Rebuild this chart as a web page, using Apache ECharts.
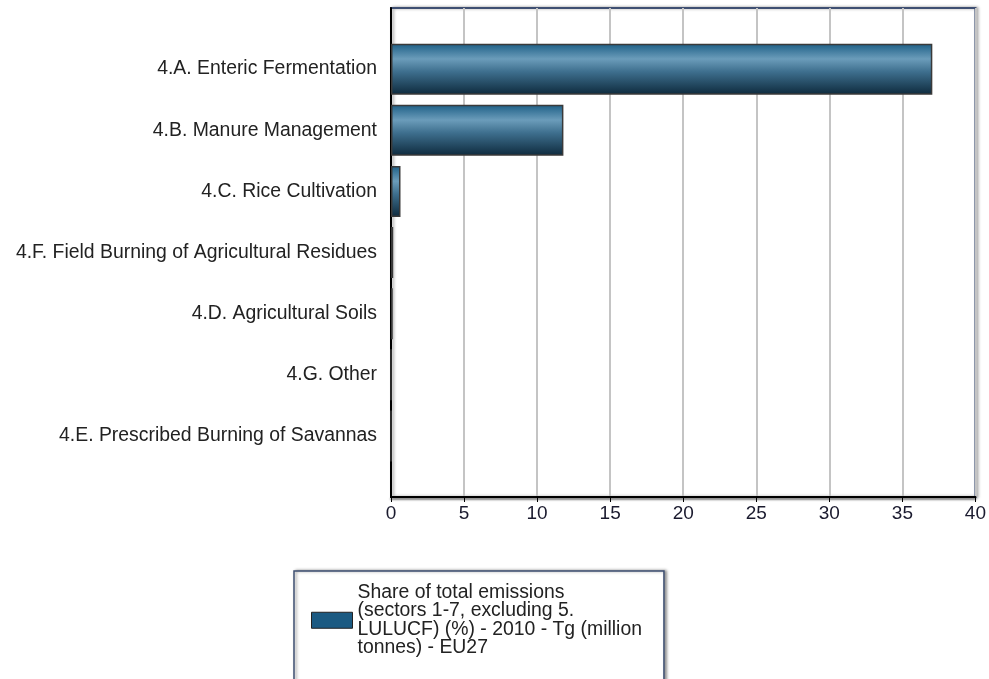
<!DOCTYPE html>
<html>
<head>
<meta charset="utf-8">
<script src="https://cdn.jsdelivr.net/npm/echarts@6/dist/echarts.min.js"></script>
<style>
html,body{margin:0;padding:0;background:#fff;}
#c{width:989px;height:679px;}
</style>
</head>
<body>
<div id="c"></div>
<script>
var categories = [
  '4.A. Enteric Fermentation',
  '4.B. Manure Management',
  '4.C. Rice Cultivation',
  '4.F. Field Burning of Agricultural Residues',
  '4.D. Agricultural Soils',
  '4.G. Other',
  '4.E. Prescribed Burning of Savannas'
];
var values = [37.05, 11.8, 0.65, 0.15, 0.12, 0, 0];
var seriesName = 'Share of total emissions\n(sectors 1-7, excluding 5.\nLULUCF) (%) - 2010 - Tg (million\ntonnes) - EU27';
var xTicks = [0, 5, 10, 15, 20, 25, 30, 35, 40];

var axisCats = [''].concat(categories).concat(['']);
var axisVals = [null].concat(values).concat([null]);

var chart = echarts.init(document.getElementById('c'), null, {renderer: 'canvas'});
var font = 'Liberation Sans, Arial, sans-serif';
chart.setOption({
  animation: false,
  backgroundColor: '#fff',
  grid: {
    left: 391, right: 13, top: 8, bottom: 182,
    show: true, borderColor: '#3e4f72', borderWidth: 2,
    shadowColor: 'rgba(0,0,0,0.35)', shadowBlur: 3, shadowOffsetX: 2, shadowOffsetY: 0,
    backgroundColor: '#fff'
  },
  xAxis: {
    type: 'value', min: xTicks[0], max: xTicks[xTicks.length - 1], interval: 5,
    axisLine: {show: true, lineStyle: {color: '#000', width: 2, shadowColor: 'rgba(0,0,0,0.45)', shadowBlur: 2, shadowOffsetY: 2}},
    axisTick: {show: true, length: 5, lineStyle: {color: '#000'}},
    axisLabel: {color: '#1a1a2e', fontSize: 19, fontFamily: font, margin: 7},
    splitLine: {show: true, lineStyle: {color: '#c4c4c4', width: 2}}
  },
  yAxis: {
    type: 'category', data: axisCats, inverse: true, boundaryGap: false,
    axisLine: {show: true, lineStyle: {color: '#000', width: 2}},
    axisTick: {show: false},
    axisLabel: {color: '#222', fontSize: 19.4, fontFamily: font, margin: 14, interval: 0},
    splitLine: {show: false}
  },
  legend: {
    left: 294, top: 571,
    orient: 'vertical',
    padding: [12, 22, 40, 17],
    backgroundColor: '#fff',
    borderColor: '#3e4f72', borderWidth: 1.5,
    shadowColor: 'rgba(0,0,0,0.4)', shadowBlur: 3, shadowOffsetX: 2, shadowOffsetY: 0,
    itemWidth: 41, itemHeight: 16, itemGap: 0,
    icon: 'rect',
    textStyle: {color: '#222', fontSize: 19.4, fontFamily: font, lineHeight: 18.5},
    data: [{name: seriesName, itemStyle: {color: '#1b5a82', borderColor: '#222', borderWidth: 1}}]
  },
  series: [{
    name: seriesName,
    type: 'bar',
    data: axisVals,
    barWidth: 51,
    itemStyle: {
      borderColor: '#3a3a3a', borderWidth: 1.5,
      color: {
        type: 'linear', x: 0, y: 0, x2: 0, y2: 1,
        colorStops: [
          {offset: 0, color: '#1d5f86'},
          {offset: 0.3, color: '#6b9cba'},
          {offset: 0.55, color: '#3e6f8e'},
          {offset: 1, color: '#0e2a3d'}
        ]
      }
    }
  }]
});
</script>
</body>
</html>
